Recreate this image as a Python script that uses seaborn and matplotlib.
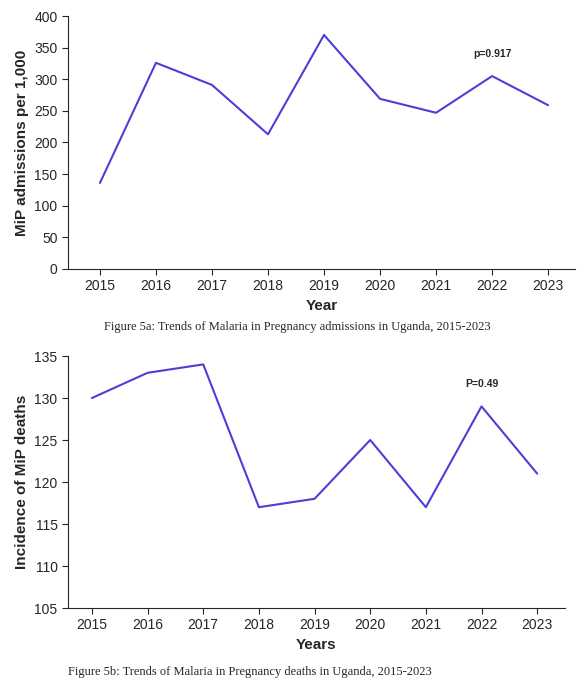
import matplotlib
matplotlib.use("Agg")
import matplotlib.pyplot as plt
import seaborn as sns
import pandas as pd

years = [2015, 2016, 2017, 2018, 2019, 2020, 2021, 2022, 2023]
admissions = [136, 326, 291, 213, 370, 269, 247, 305, 259]
deaths = [130, 133, 134, 117, 118, 125, 117, 129, 121]

sns.set_style("ticks")
plt.rcParams['font.family'] = ['Liberation Sans', 'DejaVu Sans']
color = "#4B3FD8"

fig = plt.figure(figsize=(5.88, 6.91), dpi=100)

ax1 = fig.add_axes([68/588, 1-269/691, 507/588, 253/691])
sns.lineplot(x=years, y=admissions, ax=ax1, color=color, lw=1.5)
ax1.set_xlim(2015-0.57, 2023.48)
ax1.set_ylim(0, 400)
ax1.set_yticks(range(0, 401, 50))
ax1.set_xticks(years)
ax1.set_xlabel("Year", fontweight="bold", fontsize=11)
ax1.set_ylabel("MiP admissions per 1,000", fontweight="bold", fontsize=11)
ax1.text(2022, 335, "p=0.917", fontweight="bold", fontsize=7.5, ha="center")
sns.despine(ax=ax1)

ax2 = fig.add_axes([68/588, 1-608/691, 497/588, 252/691])
sns.lineplot(x=years, y=deaths, ax=ax2, color=color, lw=1.5)
ax2.set_xlim(2015-0.43, 2023.5)
ax2.set_ylim(105, 135)
ax2.set_yticks(range(105, 136, 5))
ax2.set_xticks(years)
ax2.set_xlabel("Years", fontweight="bold", fontsize=11)
ax2.set_ylabel("Incidence of MiP deaths", fontweight="bold", fontsize=11)
ax2.text(2022, 131.3, "P=0.49", fontweight="bold", fontsize=7.5, ha="center")
sns.despine(ax=ax2)

for ax in (ax1, ax2):
    ax.tick_params(labelsize=10, length=4)

fig.text(0.505, 1-327/691, "Figure 5a: Trends of Malaria in Pregnancy admissions in Uganda, 2015-2023",
         ha="center", va="center", fontsize=9, family="Liberation Serif")
fig.text(0.115, 1-672/691, "Figure 5b: Trends of Malaria in Pregnancy deaths in Uganda, 2015-2023",
         ha="left", va="center", fontsize=9, family="Liberation Serif")

fig.savefig("out.png", dpi=100)
